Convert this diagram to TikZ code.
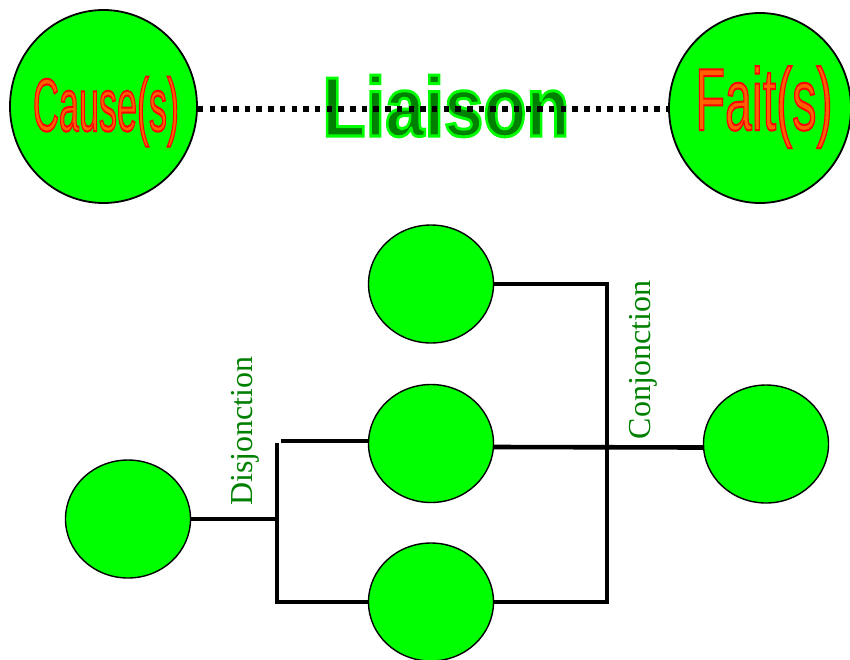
\documentclass[tikz,border=0pt]{standalone}
\usepackage{fontspec}
\setmainfont{Liberation Serif}
\newfontfamily\artfont{Liberation Sans}
\usetikzlibrary{shapes.geometric}

\definecolor{ballgreen}{RGB}{0,255,0}
\definecolor{darkgreen}{RGB}{0,128,0}
\definecolor{labelgreen}{RGB}{0,128,0}
\definecolor{causefill}{RGB}{255,96,0}

\tikzset{
  bigball/.style={ellipse, draw=black, line width=1.8pt, fill=ballgreen,
                  inner sep=0pt},
  ball/.style={ellipse, draw=black, line width=1.4pt, fill=ballgreen,
               minimum width=125pt, minimum height=118pt, inner sep=0pt},
  wire/.style={line width=4.6pt},
  dotline/.style={line width=5.5pt, dash pattern=on 5.5pt off 6.2pt},
  sidelabel/.style={rotate=90, anchor=base, text=labelgreen, inner sep=0pt,
                    font=\fontsize{32}{32}\selectfont},
  art/.style={anchor=base, inner sep=0pt}
}

% word-art text: glyphs filled in the text colour and stroked with an
% outline colour (PDF text render mode 2); #1 stroke width, #2 stroke RGB, #3 text
\newcommand\strokedtext[3]{%
  \special{pdf:code q 2 Tr #1 w #2 RG}#3\special{pdf:code Q}}

\begin{document}
\begin{tikzpicture}[x=1pt,y=-1pt]
  \useasboundingbox (0,0) rectangle (850,659);

  % ---- upper part: cause -- link -- fact
  \node[bigball, minimum width=187pt, minimum height=193pt] (cause) at (103.5,106.5) {};
  \node[bigball, minimum width=182pt, minimum height=190pt] (fait) at (760,108) {};

  \node[art, xscale=0.48, text=causefill,
        font=\artfont\fontsize{75}{75}\selectfont] (causetxt) at (106,131)
        {\strokedtext{2}{1 0 0}{Cause(s)}};
  \node[art, xscale=0.55, text=causefill,
        font=\artfont\fontsize{88}{88}\selectfont] (faittxt) at (764,130)
        {\strokedtext{2}{1 0 0}{Fait(s)}};
  \node[art, xscale=0.84, text=darkgreen,
        font=\artfont\bfseries\fontsize{84}{84}\selectfont] (liaison) at (446,136)
        {\strokedtext{3}{0 1 0}{Liaison}};

  \draw[dotline] (cause.east |- 0,109) -- (fait.west |- 0,109);

  % ---- lower part: disjunction and conjunction of causes
  \node[ball] (src)  at (128,519) {};
  \node[ball] (ctop) at (431,284) {};
  \node[ball] (cmid) at (431,443.5) {};
  \node[ball] (cbot) at (431,602) {};
  \node[ball] (dst)  at (766,444) {};

  \coordinate (djtop) at (277,443);
  \coordinate (djmid) at (277,519);
  \coordinate (djbot) at (277,602);
  \coordinate (djarm) at (281,441);
  \coordinate (cjtop) at (607,284);
  \coordinate (cjbot) at (607,602);

  \draw[wire] (src.east) -- (djmid);
  \draw[wire] (djtop) -- (djbot) -- (cbot.west);
  \draw[wire] (djarm) -- (djarm -| cmid.west);

  \draw[wire] (ctop.east) -- (cjtop) -- (cjbot) -- (cbot.east);
  \draw[wire] ([yshift=-3.5pt]cmid.east) -- ([yshift=-3.5pt]dst.west);

  \node[sidelabel] (dis) at (252,431) {Disjonction};
  \node[sidelabel] (con) at (650,360) {Conjonction};
\end{tikzpicture}
\end{document}
